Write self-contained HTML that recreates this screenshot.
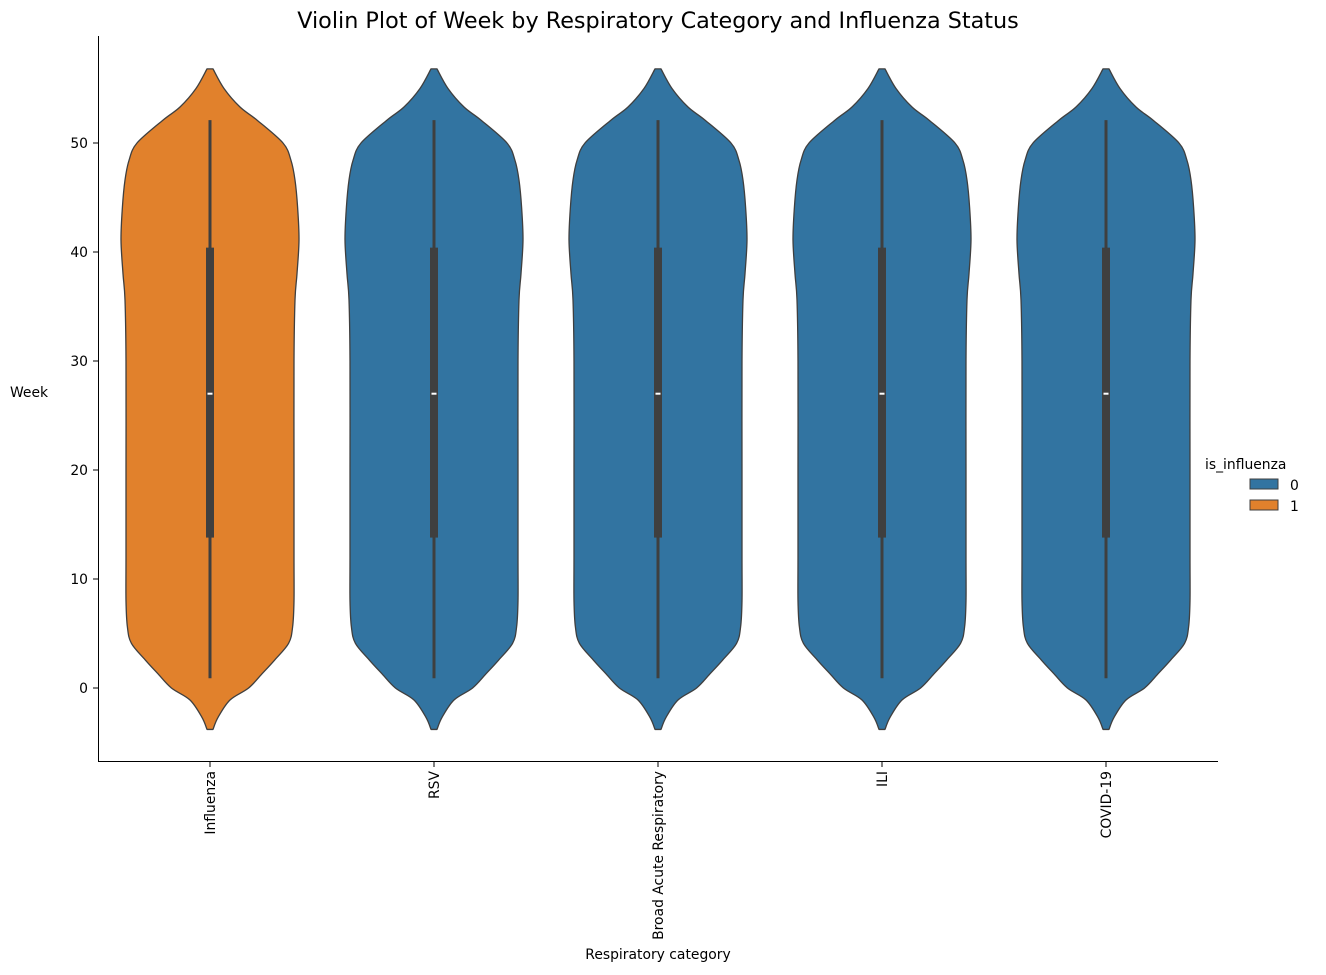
<!DOCTYPE html>
<html><head><meta charset="utf-8"><style>
body{margin:0;background:#fff;font-family:"DejaVu Sans","Liberation Sans",sans-serif}
</style></head><body>
<svg id="chart" width="1326" height="971" xmlns="http://www.w3.org/2000/svg" font-family="DejaVu Sans, Liberation Sans, sans-serif">
<text x="658" y="28" text-anchor="middle" font-size="22.3" fill="#000">Violin Plot of Week by Respiratory Category and Influenza Status</text>
<text x="10" y="397" font-size="13.9" fill="#000">Week</text>
<text x="658" y="959" text-anchor="middle" font-size="13.9" fill="#000">Respiratory category</text>
<g id="plot"></g>
<line x1="98.5" y1="36" x2="98.5" y2="762" stroke="#000" stroke-width="1"/>
<line x1="98" y1="761.5" x2="1218" y2="761.5" stroke="#000" stroke-width="1"/>
<g>
<text x="1205" y="469" font-size="13.9">is_influenza</text>
<rect x="1250" y="479" width="28" height="10" fill="#3274a1" stroke="#3f3f3f"/>
<text x="1290" y="490" font-size="13.9">0</text>
<rect x="1250" y="500" width="28" height="10" fill="#e1812c" stroke="#3f3f3f"/>
<text x="1290" y="511" font-size="13.9">1</text>
</g>
</svg>
<script>
const categories = ["Influenza","RSV","Broad Acute Respiratory","ILI","COVID-19"];
const isInfluenza = [1,0,0,0,0];
const yTicks = [0,10,20,30,40,50];
const kdeWeeks = [-3.8,-2.7,-1.1,0,1.3,2.6,4.1,5.6,8,12,20,30,35.6,38,41.1,44.1,46.6,48.4,50,52.1,53.3,55,56.8];
const kdeHalf  = [3,8,20,38.6,52,65,78.6,82.6,84,84,84,84,85,87,89,87.6,85,81,73,47,30,14,3];
const whiskerLow = [0.9,0.9,0.9,0.9,0.9];
const whiskerHigh = [52.1,52.1,52.1,52.1,52.1];
const q1 = [13.8,13.8,13.8,13.8,13.8];
const q3 = [40.4,40.4,40.4,40.4,40.4];
const medians = [27,27,27,27,27];

const NS="http://www.w3.org/2000/svg";
const y = v => 688 - v*10.9;
const x = i => 210 + i*224;
const g = document.getElementById('plot');
const svg = document.getElementById('chart');
function mk(tag, attrs, parent){const e=document.createElementNS(NS,tag);for(const k in attrs)e.setAttribute(k,attrs[k]);(parent||g).appendChild(e);return e;}
function smooth(pts){
  let d='M'+pts[0][0]+','+pts[0][1];
  for(let i=0;i<pts.length-1;i++){
    const p0=pts[Math.max(i-1,0)],p1=pts[i],p2=pts[i+1],p3=pts[Math.min(i+2,pts.length-1)];
    const c1=[p1[0]+(p2[0]-p0[0])/6,p1[1]+(p2[1]-p0[1])/6];
    const c2=[p2[0]-(p3[0]-p1[0])/6,p2[1]-(p3[1]-p1[1])/6];
    d+='C'+c1[0]+','+c1[1]+' '+c2[0]+','+c2[1]+' '+p2[0]+','+p2[1];
  }
  return d;
}

yTicks.forEach(t=>{
  const l=mk('line',{x1:93,x2:98,y1:y(t),y2:y(t),stroke:'#000'},svg);
  
  
  const tx=mk('text',{x:88,y:y(t)+5,'text-anchor':'end','font-size':13.9},svg);
  tx.textContent=t;
  
  
});

categories.forEach((c,i)=>{
  const cx=x(i);
  const right=kdeWeeks.map((w,k)=>[cx+kdeHalf[k],y(w)]);
  const left=kdeWeeks.map((w,k)=>[cx-kdeHalf[k],y(w)]).reverse();
  let d=smooth(right)+'L'+smooth(left).slice(1)+'Z';
  const p=mk('path',{d:d,fill:isInfluenza[i]?'#e1812c':'#3274a1',stroke:'#3f3f3f','stroke-width':1.3,'stroke-linejoin':'round'});
  
  
  const wl=mk('line',{x1:cx,x2:cx,y1:y(whiskerLow[i]),y2:y(whiskerHigh[i]),stroke:'#3f3f3f','stroke-width':3});
  
  
  const b=mk('rect',{x:cx-4,y:y(q3[i]),width:8,height:y(q1[i])-y(q3[i]),fill:'#3f3f3f'});
  
  
  const m=mk('line',{x1:cx-2.5,x2:cx+2.5,y1:y(medians[i]),y2:y(medians[i]),stroke:'#fff','stroke-width':2});
  
  
  const t=mk('line',{x1:cx,x2:cx,y1:762,y2:767,stroke:'#000'},svg);
  
  
  const tx=mk('text',{transform:'translate('+(cx+5)+',771) rotate(-90)','text-anchor':'end','font-size':13.9},svg);
  tx.textContent=c;
  
  
});
</script>
</body></html>
